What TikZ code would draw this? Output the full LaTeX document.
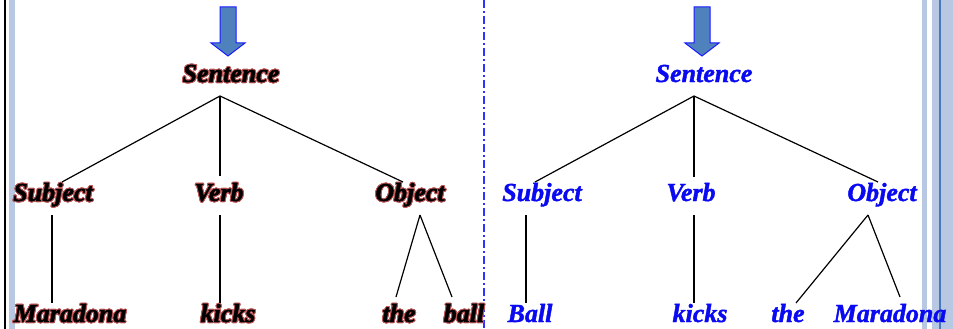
\documentclass[tikz,border=0pt]{standalone}
\usepackage{fontspec}
\setmainfont{Liberation Serif}[BoldItalicFeatures={FakeBold=1.6}]
\usepackage{contour}
\usetikzlibrary{calc,positioning}
\definecolor{wordblue}{HTML}{0A0AF0}
\definecolor{splitblue}{HTML}{3030FF}
\definecolor{arrowfill}{HTML}{4F81BD}
\definecolor{arrowedge}{HTML}{1A1AFF}
\definecolor{halo}{HTML}{C05A5A}
\definecolor{rulepale}{HTML}{B9C8E2}
\definecolor{ruledark}{HTML}{4A78BC}
\newcommand{\Word}{\fontsize{26}{30}\selectfont\bfseries\itshape}
\contourlength{0.9pt}
\contournumber{24}
\newcommand{\Emb}[1]{\contour{halo}{#1}}

\begin{document}
\begin{tikzpicture}[x=1pt,y=-1pt, font=\Word,
    wd/.style={inner sep=0pt, outer sep=0pt, anchor=base, text height=19pt, text depth=14pt},
    embword/.style={wd, text=black},
    blueword/.style={wd, text=wordblue},
    branch/.style={black, line width=1.2pt},
    downarr/.style={draw=arrowedge, fill=arrowfill, line width=1pt, line join=miter}]
  \useasboundingbox (0,0) rectangle (953,329);
  % frame strips
  \fill[rulepale] (9,0) rectangle (15,329);
  \draw[black, line width=2.4pt] (5,0) -- (5,329);
  \fill[rulepale] (922,0) rectangle (927,329);
  \fill[rulepale] (932,0) rectangle (953,329);
  \draw[ruledark, line width=2pt] (940,0) -- (940,329);
  \draw[splitblue, line width=2pt, dash pattern=on 8pt off 3pt on 2pt off 3pt] (483.5,0) -- (483.5,329);
  % arrows into the roots
  \foreach \ax in {228,702}{
    \draw[downarr] (\ax-8,7) -- (\ax+8,7) -- (\ax+8,43) -- (\ax+17,43) -- (\ax,56) -- (\ax-17,43) -- (\ax-8,43) -- cycle;}
  % left tree
  \foreach \nm/\cx/\cy/\tx in {sentL/231/82/Sentence, subjL/53/201/Subject, verbL/219/201/Verb, objL/410/201/Object,
      maraL/70/322/Maradona, kicksL/228/322/kicks, theL/399/322/the, ballL/464/322/ball}{
    \node[embword] (\nm) at (\cx,\cy) {\Emb{\tx}};}
  % right tree
  \foreach \nm/\cx/\cy/\tx in {sentR/704/82/Sentence, subjR/542/201/Subject, verbR/691/201/Verb, objR/882/201/Object,
      ballR/530/322/Ball, kicksR/700/322/kicks, theR/788/322/the, maraR/890/322/Maradona}{
    \node[blueword] (\nm) at (\cx,\cy) {\tx};}
  % branches, left
  \coordinate (apexL) at ([xshift=-11pt]sentL.south);
  \draw[branch] (apexL) -- ([xshift=9pt]subjL.north);
  \draw[branch] (apexL) -- ([shift={(1pt,6pt)}]verbL.north);
  \draw[branch] (apexL) -- ([xshift=-7pt]objL.north);
  \draw[branch] ([xshift=-1pt]subjL.south) -- ([xshift=-1pt]subjL.south |- maraL.north);
  \draw[branch] ([xshift=1pt]verbL.south) -- ([xshift=1pt]verbL.south |- kicksL.north);
  \coordinate (forkL) at ([xshift=10pt]objL.south);
  \draw[branch] (forkL) -- ([shift={(-3pt,6pt)}]theL.north);
  \draw[branch] (forkL) -- ([shift={(-12pt,6pt)}]ballL.north);
  % branches, right
  \coordinate (apexR) at ([xshift=-10pt]sentR.south);
  \draw[branch] (apexR) -- ([xshift=-7pt]subjR.north);
  \draw[branch] (apexR) -- ([shift={(3pt,5pt)}]verbR.north);
  \draw[branch] (apexR) -- ([xshift=-4pt]objR.north);
  \draw[branch] ([xshift=-16pt]subjR.south) -- ([xshift=-16pt]subjR.south |- ballR.north);
  \draw[branch] ([xshift=3pt]verbR.south) -- ([xshift=3pt]verbR.south |- kicksR.north);
  \coordinate (forkR) at ([xshift=-14pt]objR.south);
  \draw[branch] (forkR) -- ([xshift=8pt]theR.north);
  \draw[branch] (forkR) -- ([shift={(10pt,6pt)}]maraR.north);
\end{tikzpicture}
\end{document}
